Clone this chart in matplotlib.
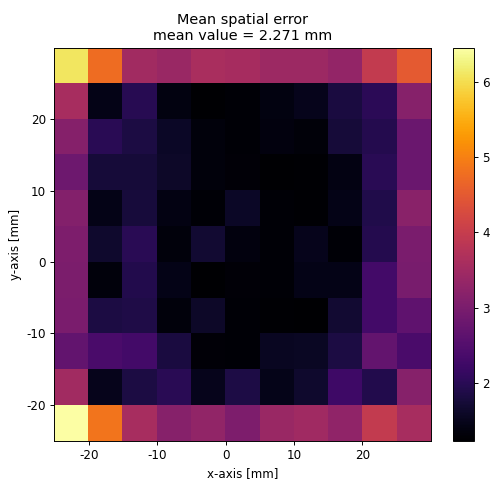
import matplotlib
matplotlib.use('Agg')
import matplotlib.pyplot as plt
import numpy as np

# mean spatial error per 5 mm cell, rows from top (y=25..30) to bottom (y=-25..-20)
row_30 = [6.10, 4.75, 3.50, 3.40, 3.62, 3.58, 3.45, 3.45, 3.33, 3.95, 4.50]
row_25 = [3.60, 1.45, 1.98, 1.40, 1.25, 1.30, 1.40, 1.50, 1.82, 2.03, 3.17]
row_20 = [3.15, 2.00, 1.85, 1.60, 1.35, 1.30, 1.38, 1.33, 1.75, 1.95, 2.80]
row_15 = [2.83, 1.75, 1.75, 1.62, 1.35, 1.32, 1.24, 1.27, 1.42, 2.00, 2.80]
row_10 = [3.13, 1.45, 1.78, 1.42, 1.30, 1.60, 1.30, 1.27, 1.45, 1.90, 3.20]
row_5 = [3.05, 1.65, 2.00, 1.35, 1.70, 1.38, 1.30, 1.50, 1.30, 1.95, 3.00]
row_0 = [3.03, 1.35, 1.93, 1.45, 1.24, 1.32, 1.30, 1.45, 1.45, 2.30, 2.97]
row_m5 = [3.00, 1.85, 1.88, 1.35, 1.62, 1.30, 1.28, 1.26, 1.70, 2.30, 2.65]
row_m10 = [2.70, 2.40, 2.30, 1.83, 1.32, 1.30, 1.55, 1.58, 1.85, 2.72, 2.40]
row_m15 = [3.50, 1.50, 1.85, 2.00, 1.50, 1.87, 1.48, 1.65, 2.25, 1.92, 3.17]
row_m20 = [6.45, 4.85, 3.60, 3.17, 3.30, 3.05, 3.40, 3.48, 3.28, 3.95, 3.60]

err = np.array([row_30, row_25, row_20, row_15, row_10, row_5,
                row_0, row_m5, row_m10, row_m15, row_m20])

s = 0.86  # reference looks like a downscaled default figure
plt.rcParams['font.size'] = 10 * s
plt.rcParams['axes.unicode_minus'] = False
plt.rcParams['axes.linewidth'] = 0.8 * s
for a in ('xtick', 'ytick'):
    plt.rcParams[a + '.major.size'] = 3.5 * s
    plt.rcParams[a + '.major.width'] = 0.8 * s
    plt.rcParams[a + '.major.pad'] = 3.5 * s
plt.rcParams['axes.titlepad'] = 6 * s
plt.rcParams['axes.labelpad'] = 4 * s

fig = plt.figure(figsize=(4.94, 4.8), dpi=100)
ax = fig.add_axes([0.1103, 0.0819, 0.7616, 0.8188])
cax = fig.add_axes([0.9176, 0.0819, 0.0413, 0.8188])

im = ax.imshow(err, cmap='inferno', extent=[-25, 30, -25, 30], aspect='auto')
ax.set_xticks([-20, -10, 0, 10, 20])
ax.set_yticks([-20, -10, 0, 10, 20])
ax.set_xlabel('x-axis [mm]')
ax.set_ylabel('y-axis [mm]')
ax.set_title('Mean spatial error\nmean value = 2.271 mm')
cb = fig.colorbar(im, cax=cax)
cb.outline.set_linewidth(0.8 * s)

plt.savefig('out.png', dpi=100)
